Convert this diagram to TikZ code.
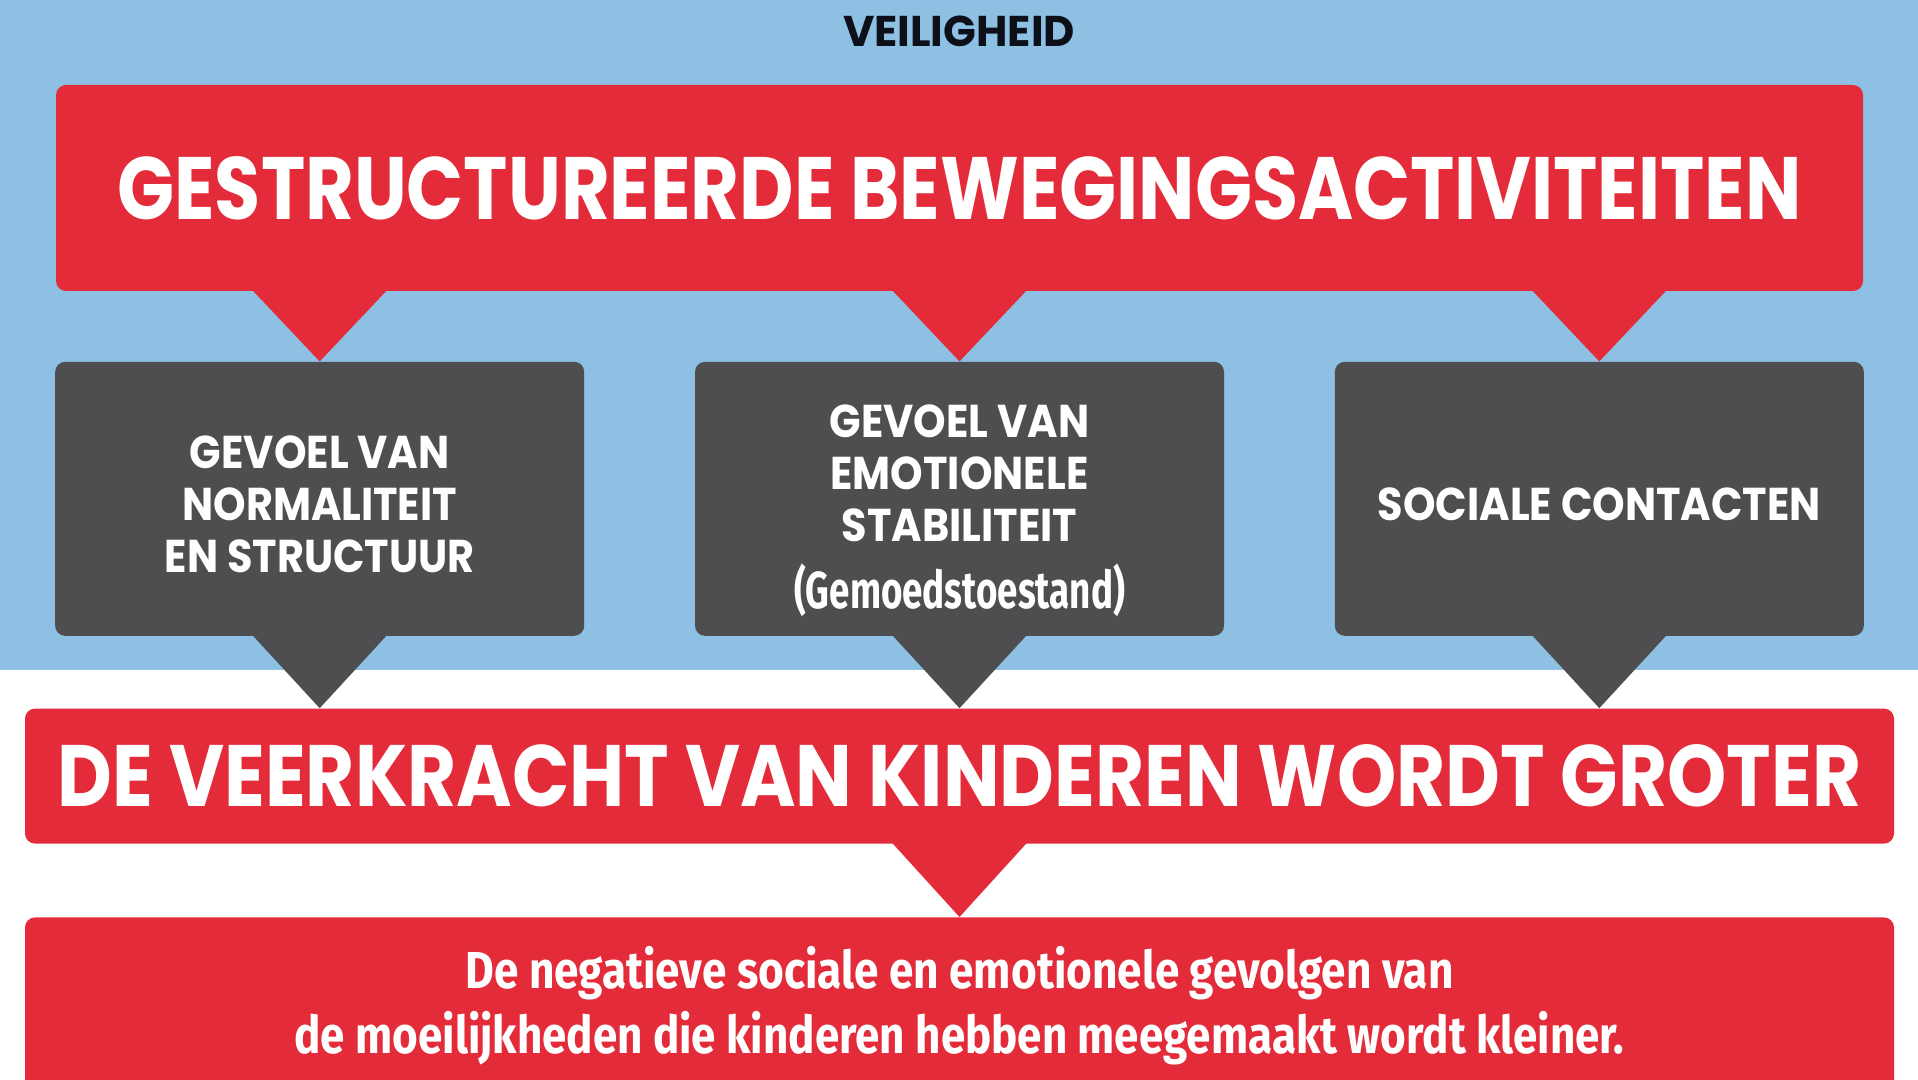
\documentclass[tikz,border=0pt]{standalone}
\usepackage{fontspec}
\setmainfont{Poppins}
\newfontfamily\kopfont{Poppins}[FakeStretch=0.9]
\newfontfamily\firafont{Fira Sans}
\usepackage{graphicx}
\usetikzlibrary{positioning, calc}

\definecolor{veilig}{HTML}{8DC0E2}
\definecolor{rood}{HTML}{E42B3A}
\definecolor{antraciet}{HTML}{4E4E50}
\definecolor{donker}{HTML}{0D1018}

% eerste regel wat lager zetten
\newcommand{\zak}[2]{\raisebox{0pt}[\dimexpr\height+#1\relax][\depth]{#2}}

\begin{document}
\begin{tikzpicture}[x=0.5pt,y=-0.5pt,node distance=35pt and 55pt,
        every node/.style={inner sep=0pt,text=white,font=\bfseries},
        rodeblok/.style={fill=rood,rounded corners=5pt,minimum width=903.5pt},
        grijsblok/.style={fill=antraciet,rounded corners=5pt,minimum width=264.5pt,minimum height=137pt,
            align=center,font=\kopfont\bfseries\fontsize{23}{26}\selectfont}]

        \clip (0,0) rectangle (1918,1080);
        \fill[veilig] (0,0) rectangle (1918,670);

        \node[text=donker,font=\bfseries\fontsize{21.5}{24}\selectfont] (veiligheid) at (959,31) {VEILIGHEID};
        \node[rodeblok,minimum height=103pt] (titel) at (959.5,188)
            {\resizebox{842pt}{31.5pt}{GESTRUCTUREERDE BEWEGINGSACTIVITEITEN}};

        \node[grijsblok,below=of titel] (g2) {\zak{11.5pt}{GEVOEL VAN}\\EMOTIONELE\\STABILITEIT\\[7.5pt]%
            {\firafont\fontsize{26}{30}\selectfont\resizebox{165.5pt}{\height}{(Gemoedstoestand)}}};
        \node[grijsblok,left=of g2] (g1) {\zak{5pt}{GEVOEL VAN}\\NORMALITEIT\\EN STRUCTUUR};
        \node[grijsblok,right=of g2] (g3) {\zak{5pt}{SOCIALE CONTACTEN}};

        \node[rodeblok,minimum width=934.5pt,minimum height=67.5pt,below=36pt of g2] (uitkomst)
            {\resizebox{901.5pt}{31pt}{DE VEERKRACHT VAN KINDEREN WORDT GROTER}};
        \node[rodeblok,minimum width=934.5pt,minimum height=88pt,below=36.5pt of uitkomst,align=center,
            font=\firafont\bfseries\fontsize{26}{32.5}\selectfont] (gevolg)
            {\resizebox{494pt}{\height}{De negatieve sociale en emotionele gevolgen van}\\
             \resizebox{665pt}{\height}{de moeilijkheden die kinderen hebben meegemaakt wordt kleiner.}};

        % pijlpunten
        \foreach \g in {g1,g2,g3} {
            \fill[rood] ($(\g.north |- titel.south)+(-70,-4)$) -- ++(140,0) -- (\g.north) -- cycle;
            \fill[antraciet] ($(\g.south)+(-70,-4)$) -- ++(140,0) -- (\g.south |- uitkomst.north) -- cycle;
        }
        \fill[rood] ($(uitkomst.south)+(-70,-4)$) -- ++(140,0) -- (gevolg.north) -- cycle;
    \end{tikzpicture}
\end{document}
